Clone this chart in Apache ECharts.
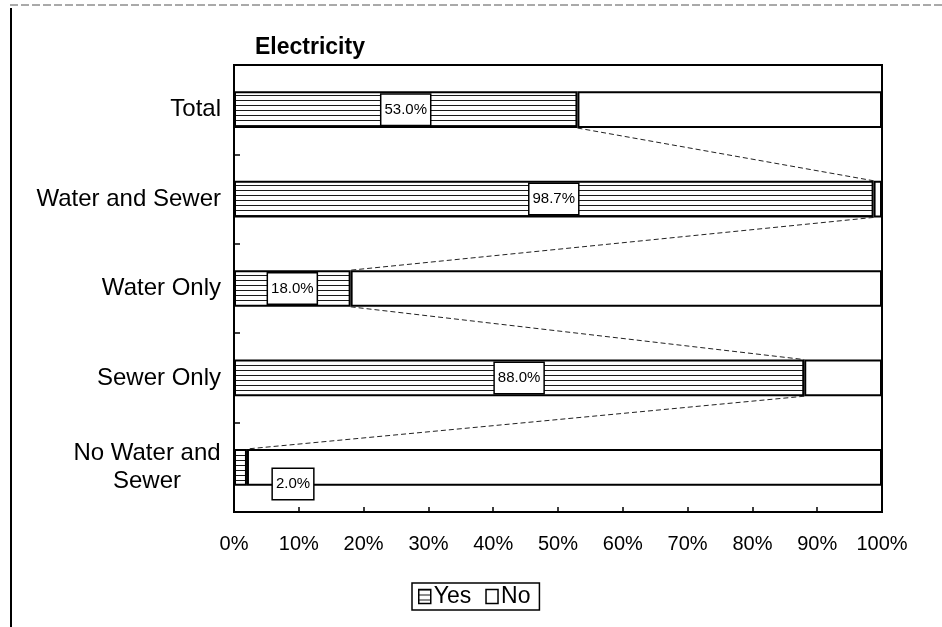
<!DOCTYPE html>
<html>
<head>
<meta charset="utf-8">
<script src="https://cdn.jsdelivr.net/npm/echarts@6/dist/echarts.min.js"></script>
<style>
  html, body { margin: 0; padding: 0; background: #fff; }
  #chart { width: 942px; height: 627px; }
</style>
</head>
<body>
<div id="chart"></div>
<script>
// Share of households with electricity, by water/sewer service
const categories = ['Total', 'Water and Sewer', 'Water Only', 'Sewer Only', 'No Water and\nSewer'];
const yesValues = [53.0, 98.7, 18.0, 88.0, 2.0];
const noValues = yesValues.map(v => +(100 - v).toFixed(1));
const xTicks = [0, 10, 20, 30, 40, 50, 60, 70, 80, 90, 100];

const FONT = '"Liberation Sans", Arial, sans-serif';
const BAR_FRACTION = 0.41;

// horizontal hatch fill for the "Yes" segments
function hatchCanvas() {
  const c = document.createElement('canvas');
  c.width = 8; c.height = 5;
  const g = c.getContext('2d');
  g.fillStyle = '#fff';
  g.fillRect(0, 0, 8, 5);
  g.fillStyle = '#1a1a1a';
  g.fillRect(0, 0, 8, 1);
  return c;
}
const hatch = { image: hatchCanvas(), repeat: 'repeat' };

// pairs used for the connector lines between consecutive bars
const connectorData = yesValues.slice(0, -1).map((v, i) => [v, i, yesValues[i + 1]]);

const chart = echarts.init(document.getElementById('chart'), null, { renderer: 'canvas' });

const option = {
  animation: false,
  backgroundColor: '#fff',
  title: {
    text: 'Electricity',
    left: 250, top: 31,
    textStyle: { fontFamily: FONT, fontSize: 23, fontWeight: 'bold', color: '#000' }
  },
  grid: {
    left: 234, right: 60, top: 65, bottom: 115,
    show: true, borderColor: '#000', borderWidth: 2, backgroundColor: '#fff'
  },
  legend: {
    data: ['Yes', 'No'],
    left: 412, top: 583,
    orient: 'horizontal',
    icon: 'rect',
    borderColor: '#000', borderWidth: 1.5, padding: [2, 9, 2, 6],
    itemWidth: 12, itemHeight: 14, itemGap: 14,
    itemStyle: { borderColor: '#000', borderWidth: 1.5 },
    textStyle: { fontFamily: FONT, fontSize: 23, color: '#000', padding: [0, 0, 0, -2] }
  },
  xAxis: {
    type: 'value', min: 0, max: 100, interval: 10,
    axisLine: { show: true, lineStyle: { color: '#000', width: 2 } },
    axisTick: { show: true, inside: true, length: 5, lineStyle: { color: '#000', width: 1.5 } },
    splitLine: { show: false },
    axisLabel: {
      margin: 22, fontFamily: FONT, fontSize: 20, color: '#000',
      formatter: v => xTicks.includes(v) ? v + '%' : ''
    }
  },
  yAxis: {
    type: 'category', data: categories, inverse: true,
    axisLine: { show: true, lineStyle: { color: '#000', width: 2 } },
    axisTick: { show: true, inside: true, length: 6, lineStyle: { color: '#000', width: 1.5 } },
    axisLabel: {
      margin: 13, fontFamily: FONT, fontSize: 24, color: '#000',
      align: 'right',
      formatter: v => v.includes('\n') ? v.split('\n').map(s => '{w|' + s + '}').join('\n') : v,
      rich: {
        w: { fontFamily: FONT, fontSize: 24, color: '#000', width: 148, align: 'center', lineHeight: 28 }
      }
    }
  },
  series: [
    {
      name: 'Yes', type: 'bar', stack: 'all', barWidth: (BAR_FRACTION * 100) + '%',
      data: yesValues.map((v, i) => {
        const item = { value: v };
        if (v < 5) {
          item.label = { position: [59, 35] };
        }
        return item;
      }),
      itemStyle: { color: hatch, borderColor: '#000', borderWidth: 2 },
      label: {
        show: true, position: 'inside',
        formatter: p => p.value.toFixed(1) + '%',
        fontFamily: FONT, fontSize: 15, color: '#000',
        backgroundColor: '#fff', borderColor: '#000', borderWidth: 1.5,
        padding: [8, 3, 7, 3], align: 'center', verticalAlign: 'middle'
      },
      z: 2
    },
    {
      name: 'No', type: 'bar', stack: 'all', barWidth: (BAR_FRACTION * 100) + '%',
      data: noValues,
      itemStyle: { color: '#fff', borderColor: '#000', borderWidth: 2 },
      label: { show: false },
      z: 1
    },
    {
      name: 'connector', type: 'custom',
      data: connectorData,
      encode: { x: 0, y: 1 },
      renderItem: function (params, api) {
        const i = api.value(1);
        const half = api.size([0, 1])[1] * BAR_FRACTION / 2;
        const p1 = api.coord([api.value(0), i]);
        const p2 = api.coord([api.value(2), i + 1]);
        return {
          type: 'line',
          shape: { x1: p1[0], y1: p1[1] + half, x2: p2[0], y2: p2[1] - half },
          style: { stroke: '#222', lineWidth: 1, lineDash: [5, 3] },
          silent: true
        };
      },
      z: 3
    }
  ],
  graphic: [
    {
      type: 'line', shape: { x1: 11, y1: 8, x2: 11, y2: 627 },
      style: { stroke: '#000', lineWidth: 2 }
    },
    {
      type: 'line', shape: { x1: 10, y1: 5, x2: 942, y2: 5 },
      style: { stroke: '#555', lineWidth: 1, lineDash: [8, 3] }
    }
  ]
};

chart.setOption(option);
</script>
</body>
</html>
